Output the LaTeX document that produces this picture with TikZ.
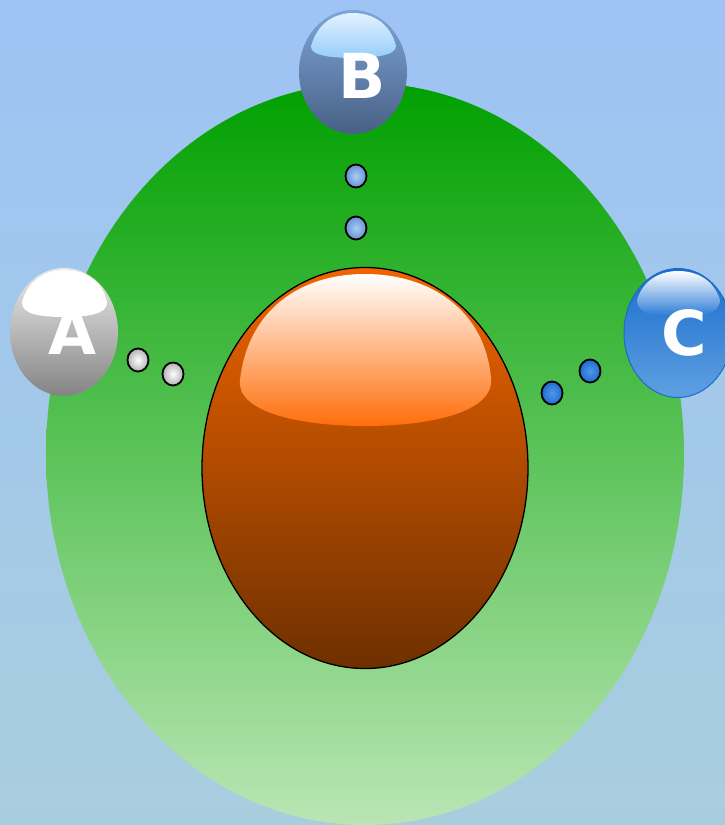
\documentclass[tikz,border=0pt]{standalone}
\usepackage{fontspec}
\setsansfont{DejaVu Sans}
\usetikzlibrary{shapes.geometric}
\definecolor{bgtop}{RGB}{158,195,245}
\definecolor{bgbot}{RGB}{168,206,222}
\definecolor{grtop}{RGB}{0,160,0}
\definecolor{grmid}{RGB}{75,190,75}
\definecolor{grbot}{RGB}{185,230,180}
\definecolor{ortop}{RGB}{240,100,0}
\definecolor{ormid}{RGB}{195,80,0}
\definecolor{orbot}{RGB}{110,48,0}
\definecolor{orhl}{RGB}{255,110,10}
\definecolor{btop}{RGB}{125,165,215}
\definecolor{bbot}{RGB}{72,96,132}
\definecolor{bhltop}{RGB}{228,242,255}
\definecolor{bhlbot}{RGB}{150,205,250}
\definecolor{atop}{RGB}{235,235,235}
\definecolor{abot}{RGB}{132,132,132}
\definecolor{ctop}{RGB}{25,108,205}
\definecolor{cbot}{RGB}{95,160,225}
\definecolor{chlbot}{RGB}{35,118,212}
\definecolor{dotB}{RGB}{100,145,210}
\definecolor{dotBin}{RGB}{170,205,245}
\definecolor{dotC}{RGB}{30,110,210}
\definecolor{dotCin}{RGB}{80,150,230}
\tikzset{
  bubble/.style={ellipse, inner sep=0pt, minimum width=108pt, minimum height=124pt},
  letter/.style={text=white, font=\fontsize{62}{62}\selectfont\sffamily\bfseries, inner sep=0pt},
  smalldot/.style={ellipse, inner sep=0pt, minimum width=21pt, minimum height=23pt, draw=black, line width=1.8pt},
  dota/.style={smalldot, inner color=white, outer color=black!30},
  dotb/.style={smalldot, inner color=dotBin, outer color=dotB},
  dotc/.style={smalldot, inner color=dotCin, outer color=dotC},
}
\begin{document}
\begin{tikzpicture}[x=1pt,y=-1pt]
\useasboundingbox (0,0) rectangle (725,825);
\clip (0,0) rectangle (725,825);
% background
\shade[top color=bgtop, bottom color=bgbot] (0,0) rectangle (725,825);
% green ellipse
\shade[top color=grtop, middle color=grmid, bottom color=grbot] (365,454) ellipse [x radius=319, y radius=371];
% central orange ellipse
\node[ellipse, inner sep=0pt, minimum width=326pt, minimum height=401pt, draw=black, line width=1.3pt,
      top color=ortop, middle color=ormid, bottom color=orbot] (core) at (365,468) {};
\shade[top color=white, bottom color=orhl]
  (240,380) .. controls (248,310) and (300,274) .. (365,274)
  .. controls (430,274) and (485,310) .. (491,378)
  .. controls (495,412) and (430,426) .. (365,426)
  .. controls (300,426) and (236,412) .. (240,380) -- cycle;
% bubble B
\node[bubble, top color=btop, bottom color=bbot] (B) at (353,72) {};
\shade[top color=bhltop, bottom color=bhlbot]
  (311,47) .. controls (317,22) and (336,13) .. (353,13)
  .. controls (371,13) and (390,22) .. (396,46)
  .. controls (396,56) and (372,58) .. (353,58)
  .. controls (334,58) and (311,56) .. (311,47) -- cycle;
\node[letter] (Bt) at (362,76) {B};
% bubble A
\node[bubble, minimum height=128pt, top color=atop, bottom color=abot] (A) at (64,332) {};
\fill[white]
  (22,302) .. controls (28,280) and (46,270) .. (64,270)
  .. controls (84,270) and (102,280) .. (107,302)
  .. controls (108,314) and (88,317) .. (64,317)
  .. controls (40,317) and (21,314) .. (22,302) -- cycle;
\node[letter] (At) at (72,332) {A};
% bubble C
\node[bubble, minimum height=129pt, top color=ctop, bottom color=cbot, draw=ctop, line width=1pt] (C) at (678,333) {};
\shade[top color=white, bottom color=chlbot]
  (637,300) .. controls (643,280) and (660,271) .. (678,271)
  .. controls (697,271) and (714,280) .. (720,300)
  .. controls (721,313) and (700,318) .. (678,318)
  .. controls (656,318) and (636,313) .. (637,300) -- cycle;
\node[letter] (Ct) at (684,333) {C};
% small dots
\node[dotb] (b1) at (356,176) {};
\node[dotb] (b2) at (356,228) {};
\node[dota] (a1) at (138,360) {};
\node[dota] (a2) at (173,374) {};
\node[dotc] (c1) at (590,371) {};
\node[dotc] (c2) at (552,393) {};
\end{tikzpicture}
\end{document}
